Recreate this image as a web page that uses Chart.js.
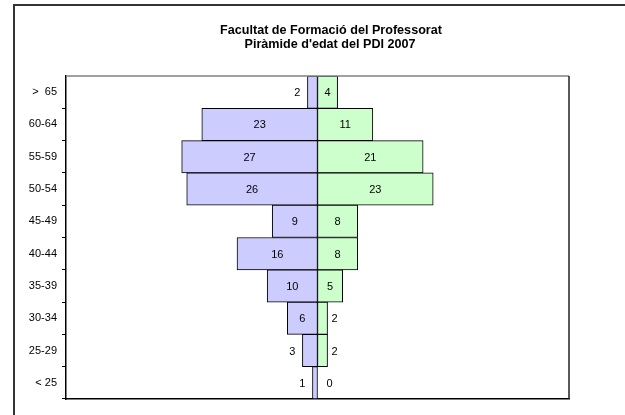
<!DOCTYPE html>
<html>
<head>
<meta charset="utf-8">
<script src="https://cdn.jsdelivr.net/npm/chart.js@4"></script>
<style>
  html, body { margin: 0; padding: 0; background: #fff; }
  #wrap { width: 625px; height: 415px; position: relative; }
</style>
</head>
<body>
<div id="wrap"><canvas id="myChart" width="625" height="415"></canvas></div>
<script>
const ages = [">  65", "60-64", "55-59", "50-54", "45-49", "40-44", "35-39", "30-34", "25-29", "< 25"];
const leftCounts = [2, 23, 27, 26, 9, 16, 10, 6, 3, 1];
const rightCounts = [4, 11, 21, 23, 8, 8, 5, 2, 2, 0];
const titleLines = ["Facultat de Formació del Professorat", "Piràmide d'edat del PDI 2007"];

const font = "'Liberation Sans', Arial, sans-serif";

// frame, plot border and title
const decor = {
  id: "decor",
  beforeDraw(chart) {
    const ctx = chart.ctx;
    ctx.save();
    ctx.fillStyle = "#fff";
    ctx.fillRect(0, 0, chart.width, chart.height);
    ctx.strokeStyle = "#333";
    ctx.lineWidth = 2;
    ctx.beginPath();
    ctx.moveTo(14, 415);
    ctx.lineTo(14, 5);
    ctx.lineTo(625, 5);
    ctx.stroke();
    ctx.fillStyle = "#000";
    ctx.font = "bold 12.6px " + font;
    ctx.textAlign = "center";
    ctx.textBaseline = "middle";
    ctx.fillText(titleLines[0], 331, 31);
    ctx.fillText(titleLines[1], 330, 45);
    ctx.restore();
  },
  afterDraw(chart) {
    const ctx = chart.ctx;
    const a = chart.chartArea;
    ctx.save();
    ctx.lineWidth = 1.5;
    ctx.strokeStyle = "#808080";
    ctx.beginPath();
    ctx.moveTo(a.left, a.top);
    ctx.lineTo(a.right, a.top);
    ctx.stroke();
    ctx.strokeStyle = "#222";
    ctx.beginPath();
    ctx.moveTo(a.right, a.top);
    ctx.lineTo(a.right, a.bottom);
    ctx.stroke();
    ctx.restore();
  }
};

// value labels: inside when the bar is wide enough, else just outside
const barLabels = {
  id: "barLabels",
  afterDatasetsDraw(chart) {
    const ctx = chart.ctx;
    ctx.save();
    ctx.font = "11px " + font;
    ctx.fillStyle = "#000";
    ctx.textBaseline = "middle";
    chart.data.datasets.forEach((ds, di) => {
      const meta = chart.getDatasetMeta(di);
      meta.data.forEach((bar, i) => {
        const txt = String(Math.abs(ds.data[i]));
        const lo = Math.min(bar.x, bar.base);
        const hi = Math.max(bar.x, bar.base);
        if (hi - lo >= 18) {
          ctx.textAlign = "center";
          ctx.fillText(txt, (lo + hi) / 2, bar.y + 1);
        } else if (di === 0) {
          ctx.textAlign = "right";
          ctx.fillText(txt, lo - 7, bar.y + 1);
        } else {
          ctx.textAlign = "left";
          ctx.fillText(txt, Math.max(hi, bar.base + 10) + 4, bar.y + 1);
        }
      });
    });
    ctx.restore();
  }
};

const data = {
  labels: ages,
  datasets: [
    {
      label: "left",
      data: leftCounts.map(v => -v),
      backgroundColor: "#CCCCFF",
      borderColor: "#000",
      borderWidth: 1,
      borderSkipped: false,
      barPercentage: 1,
      categoryPercentage: 1,
    },
    {
      label: "right",
      data: rightCounts,
      backgroundColor: "#CCFFCC",
      borderColor: "#000",
      borderWidth: 1,
      borderSkipped: false,
      barPercentage: 1,
      categoryPercentage: 1,
    },
  ],
};

const config = {
  type: "bar",
  data: data,
  options: {
    indexAxis: "y",
    responsive: false,
    animation: false,
    layout: { padding: { left: 0, top: 76, right: 56, bottom: 16 } },
    plugins: {
      legend: { display: false },
      title: { display: false },
      tooltip: { enabled: false },
    },
    scales: {
      x: {
        stacked: true,
        min: -50,
        max: 50,
        ticks: { display: false },
        grid: { display: false },
        border: { display: true, color: "#000", width: 1.5 },
        afterFit(scale) { scale.height = 0; },
      },
      y: {
        stacked: true,
        ticks: { color: "#000", font: { family: font, size: 11 }, padding: 5 },
        grid: {
          drawOnChartArea: false,
          tickLength: 4,
          color: (c) => (c.index === 0 ? "rgba(0,0,0,0)" : "#000"),
        },
        border: { display: true, color: "#000", width: 1.5 },
        afterFit(scale) { scale.width = 66; },
      },
    },
  },
  plugins: [decor, barLabels],
};

const myChart = new Chart(document.getElementById("myChart"), config);
</script>
</body>
</html>
